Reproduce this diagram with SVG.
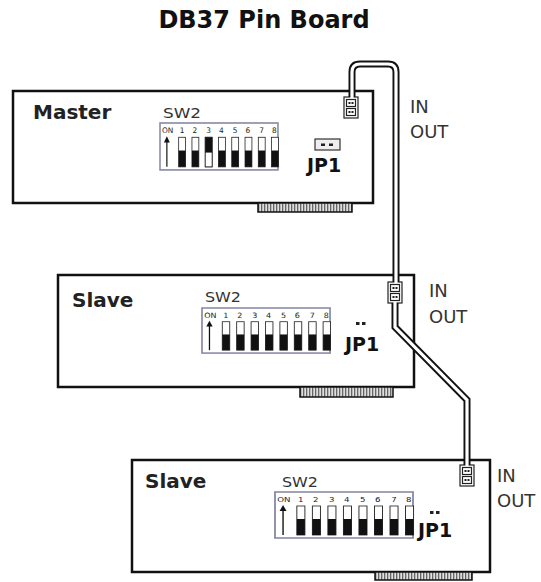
<svg xmlns="http://www.w3.org/2000/svg" xmlns:xlink="http://www.w3.org/1999/xlink" width="541" height="582" viewBox="0 0 541 582">
<style>
.board{fill:#fff;stroke:#111;stroke-width:2.5}
.title{font-family:"DejaVu Sans",sans-serif;font-weight:bold;font-size:24px;fill:#111}
.name{font-family:"DejaVu Sans",sans-serif;font-weight:bold;font-size:20px;fill:#222}
.jp{font-family:"DejaVu Sans",sans-serif;font-weight:bold;font-size:19px;fill:#111}
.sw{font-family:"DejaVu Sans",sans-serif;font-size:14px;fill:#333}
.io{font-family:"DejaVu Sans",sans-serif;font-size:18px;fill:#333}
.num{font-family:"DejaVu Sans",sans-serif;font-size:7.5px;fill:#222}
.edge{fill:url(#fingers);stroke:#111;stroke-width:1.5}
.slot{fill:#fff;stroke:#222;stroke-width:0.8}
.cableO{fill:none;stroke:#111;stroke-width:7}
.cableI{fill:none;stroke:#fff;stroke-width:3.2}
.jack{fill:#fff;stroke:#222;stroke-width:1.2}
</style>
<defs>
<pattern id="fingers" width="3" height="10" patternUnits="userSpaceOnUse">
<rect width="3" height="10" fill="#ddd"/><rect width="1.3" height="10" fill="#666"/>
</pattern>
<g id="dip">
<rect x="0" y="0" width="120" height="46" fill="#fff" stroke="#8a8aa6" stroke-width="1.6"/>
<text class="num" x="2" y="10">ON</text>
<text class="num" x="20" y="10">1</text><text class="num" x="33" y="10">2</text>
<text class="num" x="47" y="10">3</text><text class="num" x="60" y="10">4</text>
<text class="num" x="74" y="10">5</text><text class="num" x="87" y="10">6</text>
<text class="num" x="101" y="10">7</text><text class="num" x="114" y="10">8</text>
<line x1="7" y1="43" x2="7" y2="17" stroke="#111" stroke-width="1.2"/>
<path d="M4,19 L7,13 L10,19 Z" fill="#111"/>
<g>
<rect class="slot" x="19" y="14" width="7" height="29"/><rect x="19" y="27" width="7" height="16" fill="#111"/>
<rect class="slot" x="32.5" y="14" width="7" height="29"/><rect x="32.5" y="27" width="7" height="16" fill="#111"/>
<rect class="slot" x="46" y="14" width="7" height="29"/><rect x="46" y="27" width="7" height="16" fill="#111"/>
<rect class="slot" x="59.5" y="14" width="7" height="29"/><rect x="59.5" y="27" width="7" height="16" fill="#111"/>
<rect class="slot" x="73" y="14" width="7" height="29"/><rect x="73" y="27" width="7" height="16" fill="#111"/>
<rect class="slot" x="86.5" y="14" width="7" height="29"/><rect x="86.5" y="27" width="7" height="16" fill="#111"/>
<rect class="slot" x="100" y="14" width="7" height="29"/><rect x="100" y="27" width="7" height="16" fill="#111"/>
<rect class="slot" x="113.5" y="14" width="7" height="29"/><rect x="113.5" y="27" width="7" height="16" fill="#111"/>
</g>
</g>
<g id="jackSym">
<rect class="jack" x="0" y="0" width="14" height="21"/>
<rect class="jack" x="2.5" y="2.5" width="9" height="7"/>
<rect class="jack" x="2.5" y="11.5" width="9" height="7"/>
<rect x="4.5" y="5" width="2" height="2" fill="#222"/><rect x="7.5" y="5" width="2" height="2" fill="#222"/>
<rect x="4.5" y="14" width="2" height="2" fill="#222"/><rect x="7.5" y="14" width="2" height="2" fill="#222"/>
</g>
</defs>
<rect width="541" height="582" fill="#fff"/>
<text id="title" class="title" x="264" y="28" text-anchor="middle">DB37 Pin Board</text>

<g id="master">
<rect class="board" x="13" y="91" width="360" height="112"/>
<rect class="edge" x="258" y="203" width="94" height="9"/>
<text class="name" x="33" y="119">Master</text>
<text class="sw" x="163" y="118" textLength="38" lengthAdjust="spacingAndGlyphs">SW2</text>
<use xlink:href="#dip" transform="translate(160,123) scale(0.983,1.02)"/>
<g transform="translate(160,123) scale(0.983,1.02)">
<rect class="slot" x="46" y="14" width="7" height="29"/><rect x="46" y="14" width="7" height="15" fill="#111"/>
</g>
<rect x="315" y="139" width="25" height="11" fill="#eee" stroke="#333" stroke-width="1.2"/>
<rect x="321" y="143.5" width="4" height="2.5" fill="#222"/><rect x="329" y="143.5" width="4" height="2.5" fill="#222"/>
<text class="jp" x="307" y="172">JP1</text>
<use xlink:href="#jackSym" x="344" y="97"/>
<text class="io" x="410" y="113">IN</text>
<text class="io" x="410" y="138">OUT</text>
</g>

<g id="slave1">
<rect class="board" x="58" y="275" width="356" height="112"/>
<rect class="edge" x="300" y="387" width="93" height="10"/>
<text class="name" x="72" y="307">Slave</text>
<text class="sw" x="205" y="302" textLength="36" lengthAdjust="spacingAndGlyphs">SW2</text>
<use xlink:href="#dip" transform="translate(202,308) scale(1.067,0.98)"/>
<rect x="356" y="322" width="3.5" height="3" fill="#222"/><rect x="362" y="322" width="3.5" height="3" fill="#222"/>
<text class="jp" x="345" y="351">JP1</text>
<use xlink:href="#jackSym" x="388" y="282"/>
<text class="io" x="429" y="297">IN</text>
<text class="io" x="429" y="323">OUT</text>
</g>

<g id="slave2">
<rect class="board" x="132" y="460" width="358" height="112"/>
<rect class="edge" x="375" y="572" width="97" height="8"/>
<text class="name" x="145" y="488">Slave</text>
<text class="sw" x="282" y="487" textLength="36" lengthAdjust="spacingAndGlyphs">SW2</text>
<use xlink:href="#dip" transform="translate(275,492) scale(1.15,1)"/>
<rect x="430" y="511" width="3.5" height="3" fill="#222"/><rect x="436" y="511" width="3.5" height="3" fill="#222"/>
<text class="jp" x="418" y="537">JP1</text>
<use xlink:href="#jackSym" x="460" y="465"/>
<text class="io" x="497" y="482">IN</text>
<text class="io" x="497" y="507">OUT</text>
</g>

<g id="connectors">
<path class="cableO" d="M352,97 V72 Q352,64 360,64 H388 Q396,64 396,72 V282"/>
<path class="cableI" d="M352,98 V72 Q352,64 360,64 H388 Q396,64 396,72 V283"/>
<path class="cableO" d="M395,303 V327 L467,400 V465"/>
<path class="cableI" d="M395,302 V327 L467,400 V466"/>
</g>
</svg>
